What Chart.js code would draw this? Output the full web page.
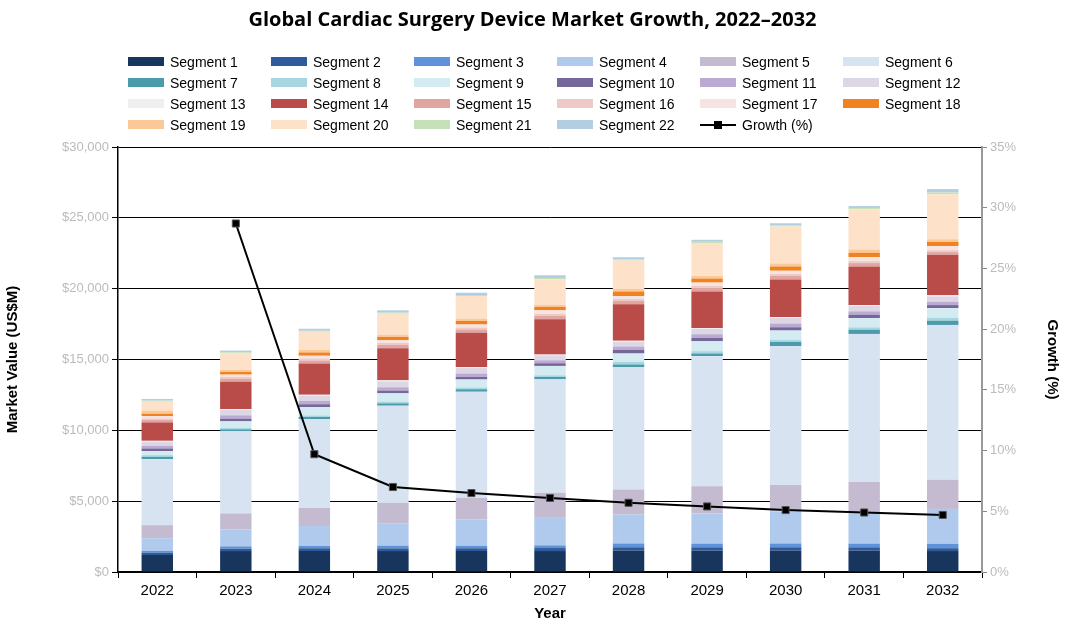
<!DOCTYPE html>
<html><head><meta charset="utf-8">
<script src="https://cdn.jsdelivr.net/npm/chart.js@4/dist/chart.umd.min.js"></script>
<style>
body{margin:0;width:1065px;height:627px;position:relative;font-family:"Open Sans",Arial,sans-serif;background:#fff;overflow:hidden}
#title{position:absolute;top:5px;left:0;width:1065px;text-align:center;font-weight:bold;font-size:20px;color:#000}
#legend{position:absolute;top:51px;left:128px;display:grid;grid-template-columns:repeat(6,143px);grid-auto-rows:21px;font-family:"Liberation Sans",Arial,sans-serif;font-size:14px;color:#000}
.li{display:flex;align-items:center;white-space:nowrap}
.sw{width:36px;height:9px;margin-right:6px;flex:none}
#wrap{position:absolute;left:0;top:0;width:1065px;height:627px}
</style></head><body>
<div id="wrap"><canvas id="c" width="1065" height="627"></canvas></div>
<div id="title">Global Cardiac Surgery Device Market Growth, 2022–2032</div>
<div id="legend"></div>
<script>
const years=["2022","2023","2024","2025","2026","2027","2028","2029","2030","2031","2032"];
const seg1=[1200,1480,1480,1480,1480,1480,1510,1510,1510,1510,1480];
const seg2=[165,165,190,190,190,210,235,235,235,235,200];
const seg3=[120,165,165,190,190,190,260,260,260,260,300];
const seg4=[900,1200,1410,1550,1840,2000,2050,2120,2260,2200,2470];
const seg5=[920,1130,1270,1480,1550,1700,1770,1930,1880,2150,2050];
const seg6=[4660,5790,6280,6850,7480,8020,8640,9180,9810,10450,10940];
const seg7=[165,140,140,165,165,165,190,190,280,300,300];
const seg8=[120,95,120,120,120,120,165,165,165,165,210];
const seg9=[280,470,590,590,565,660,610,700,640,660,680];
const seg10=[190,190,190,190,190,190,235,235,235,235,210];
const seg11=[190,235,235,235,235,210,260,260,260,235,240];
const seg12=[280,375,375,420,400,350,330,380,400,380,380];
const seg13=[70,70,70,70,60,50,60,60,60,60,80];
const seg14=[1300,1930,2210,2260,2420,2490,2590,2570,2660,2730,2830];
const seg15=[165,210,210,235,235,235,235,260,235,235,210];
const seg16=[120,120,140,140,140,165,140,140,140,140,140];
const seg17=[165,165,190,190,215,235,210,235,235,280,280];
const seg18=[165,190,235,235,235,235,305,285,305,305,300];
const seg19=[210,140,165,165,165,165,190,190,210,235,190];
const seg20=[640,1180,1300,1480,1600,1790,2000,2310,2610,2830,3180];
const seg21=[70,70,70,70,70,95,95,95,95,95,120];
const seg22=[120,120,140,165,165,190,140,140,140,140,240];
const growth=[null,28.7,9.7,7.0,6.5,6.1,5.7,5.4,5.1,4.9,4.7];
const leftTicks=["$0","$5,000","$10,000","$15,000","$20,000","$25,000","$30,000"];
const rightTicks=["0%","5%","10%","15%","20%","25%","30%","35%"];
const segs=[seg1,seg2,seg3,seg4,seg5,seg6,seg7,seg8,seg9,seg10,seg11,seg12,seg13,seg14,seg15,seg16,seg17,seg18,seg19,seg20,seg21,seg22];
const colors=["#18355d","#2d5b9b","#5f92d8","#b0caee","#c4bbd1","#d7e3f1","#4b9bab","#a8d6e0","#d4ecf1","#76679a","#bbaad2","#ddd7e5","#efefef","#b94b49","#e1a5a1","#eecac6","#f7e3e1","#f0821f","#fbc898","#fde1c9","#c6e1b9","#b1cfe1"];
const ds=segs.map((d,i)=>({type:'bar',label:'Segment '+(i+1),data:d,backgroundColor:colors[i],borderWidth:0,stack:'s',yAxisID:'y',order:2,barPercentage:0.4,categoryPercentage:1}));
ds.push({type:'line',label:'Growth (%)',data:growth,yAxisID:'y1',borderColor:'#000',backgroundColor:'#000',borderWidth:2,pointStyle:'rect',pointRadius:5,pointBorderColor:'#555',pointBorderWidth:1,tension:0,order:0,spanGaps:false});
const lg=document.getElementById('legend');
ds.forEach((d,i)=>{const e=document.createElement('div');e.className='li';
 if(d.type==='line'){e.innerHTML='<svg width="36" height="10" style="margin-right:6px"><line x1="0" y1="5" x2="36" y2="5" stroke="#000" stroke-width="2"/><rect x="14" y="1" width="8" height="8" fill="#000"/></svg>'+d.label;}
 else e.innerHTML='<span class="sw" style="background:'+d.backgroundColor+'"></span>'+d.label;
 lg.appendChild(e);});
new Chart(document.getElementById('c'),{data:{labels:years,datasets:ds},options:{
 responsive:false,animation:false,
 layout:{padding:{top:147,left:0,right:0,bottom:0}},
 plugins:{legend:{display:false},title:{display:false},tooltip:{enabled:false}},
 scales:{
  x:{stacked:true,grid:{display:true,drawOnChartArea:false,offset:true,color:'#000',tickLength:6},border:{color:'#000',width:1.5},
     ticks:{color:'#000',font:{size:15,family:'Liberation Sans'},padding:4},
     title:{display:true,text:'Year',color:'#000',font:{size:15,weight:'bold',family:'Liberation Sans'},padding:{top:0}},
     afterFit:s=>{s.height=55;}},
  y:{stacked:true,min:0,max:30000,position:'left',
     ticks:{stepSize:5000,color:'#bbb',font:{size:13,family:'Liberation Sans'},callback:(v,i)=>leftTicks[i]},
     grid:{color:'#000',lineWidth:1,tickLength:6},border:{color:'#000',width:1.5},
     title:{display:true,text:'Market Value (US$M)',color:'#000',font:{size:15,weight:'bold',family:'Liberation Sans'}},
     afterFit:s=>{s.width=118;}},
  y1:{min:0,max:35,position:'right',
     ticks:{stepSize:5,color:'#bbb',font:{size:13,family:'Liberation Sans'},callback:(v,i)=>rightTicks[i]},
     grid:{drawOnChartArea:false,color:'#888',tickLength:5},border:{color:'#999',width:2},
     title:{display:true,text:'Growth (%)',color:'#000',font:{size:15,weight:'bold',family:'Liberation Sans'}},
     afterFit:s=>{s.width=83;}}
 }}});
</script></body></html>
